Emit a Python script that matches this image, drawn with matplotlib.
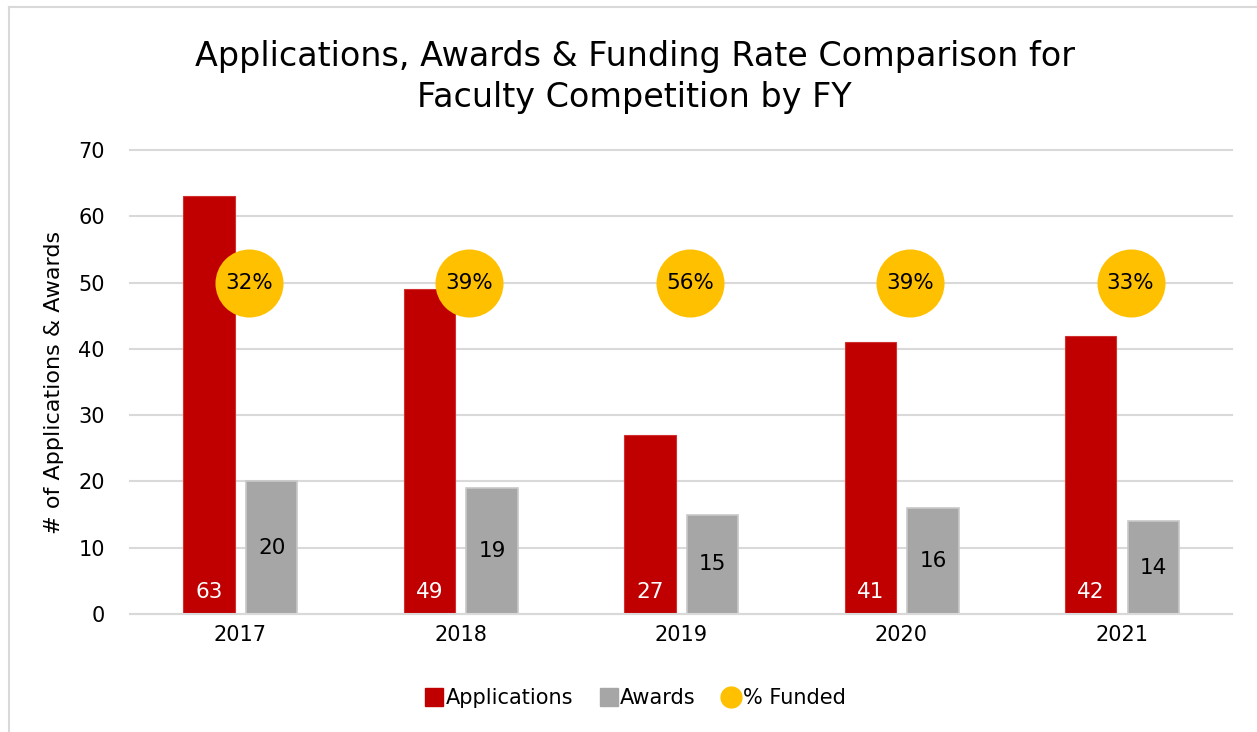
import matplotlib.pyplot as plt
import numpy as np
from matplotlib.lines import Line2D

years = ["2017", "2018", "2019", "2020", "2021"]
applications = [63, 49, 27, 41, 42]
awards = [20, 19, 15, 16, 14]
pct_funded = [32, 39, 56, 39, 33]

RED = "#c00000"
GRAY = "#a6a6a6"
GOLD = "#ffc000"

plt.rcParams['font.family'] = ['DejaVu Sans']

fig = plt.figure(figsize=(12.57, 7.32), dpi=100)
ax = fig.add_axes([0.1034, 0.1612, 0.8767, 0.6339])

x = np.arange(len(years))
w = 0.234
ax.bar(x - 0.141, applications, w, color=RED, edgecolor="#d03030", linewidth=0.8, zorder=2)
ax.bar(x + 0.143, awards, w, color=GRAY, edgecolor="#c8c8c8", linewidth=1.2, zorder=2)

# % funded bubbles drawn at a fixed height of 50
ax.scatter(x + 0.04, [50] * len(years), s=2400, color=GOLD, zorder=3, linewidths=0)

for i in range(len(years)):
    ax.text(x[i] - 0.141, 1.8, str(applications[i]), ha="center", va="bottom",
            color="white", fontsize=15.5, zorder=4)
    ax.text(x[i] + 0.143, awards[i] / 2, str(awards[i]), ha="center", va="center",
            color="black", fontsize=15.5, zorder=4)
    ax.text(x[i] + 0.04, 50, f"{pct_funded[i]}%", ha="center", va="center",
            color="black", fontsize=15.5, zorder=4)

ax.set_xlim(-0.5, 4.5)
ax.set_ylim(0, 70)
ax.set_yticks(range(0, 71, 10))
ax.set_xticks(x)
ax.set_xticklabels(years)
ax.tick_params(axis="both", length=0, labelsize=15, pad=8)
ax.tick_params(axis="y", pad=18)
ax.grid(axis="y", color="#d9d9d9", linewidth=1.5, zorder=0)
for gl in ax.get_ygridlines():
    gl.set_clip_on(False)
ax.set_axisbelow(True)
for s in ["top", "right", "left"]:
    ax.spines[s].set_visible(False)
ax.spines["bottom"].set_color("#d9d9d9")
ax.spines["bottom"].set_linewidth(1.5)

ax.set_ylabel("# of Applications & Awards", fontsize=16, labelpad=10)

fig.text(0.505, 0.895, "Applications, Awards & Funding Rate Comparison for\nFaculty Competition by FY",
         ha="center", va="center", fontsize=24, linespacing=1.3)

handles = [
    Line2D([], [], marker="s", linestyle="none", markersize=13, color=RED),
    Line2D([], [], marker="s", linestyle="none", markersize=13, color=GRAY),
    Line2D([], [], marker="o", linestyle="none", markersize=15, color=GOLD),
]
fig.legend(handles, ["Applications", "Awards", "% Funded"], loc="center",
           bbox_to_anchor=(0.505, 0.046), ncol=3, frameon=False, fontsize=15,
           handletextpad=0.05, columnspacing=1.2, handlelength=1.0)

# chart border (left and top edges visible)
fig.add_artist(Line2D([9 / 1257, 9 / 1257], [0, 1 - 7 / 732], color="#d9d9d9",
                      linewidth=1.5, transform=fig.transFigure))
fig.add_artist(Line2D([9 / 1257, 1], [1 - 7 / 732, 1 - 7 / 732], color="#d9d9d9",
                      linewidth=1.5, transform=fig.transFigure))

plt.savefig("out.png", dpi=100)
plt.close()
